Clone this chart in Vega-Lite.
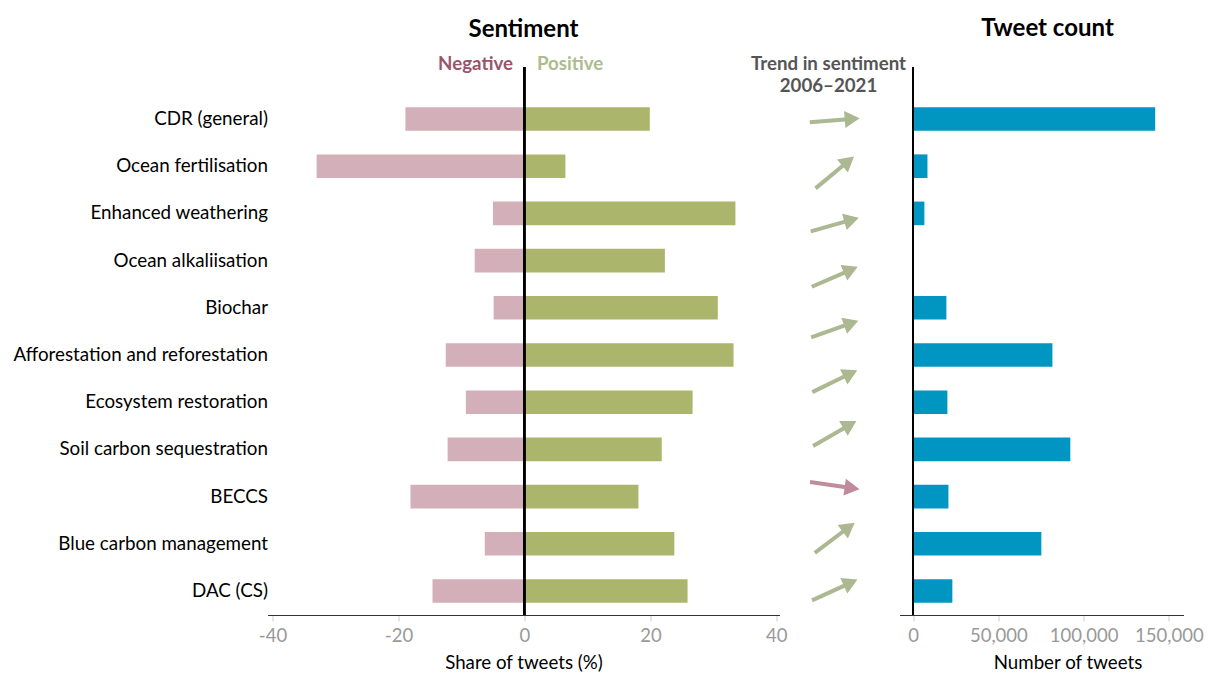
{
  "$schema": "https://vega.github.io/schema/vega-lite/v6.json",
  "padding": {"left": 12.5, "top": 17, "right": 0, "bottom": 0},
  "background": "white",
  "bounds": "flush",
  "spacing": 0,
  "config": {
    "font": "Lato",
    "view": {"stroke": null},
    "axis": {"labelFont": "Lato", "titleFont": "Lato", "grid": false},
    "title": {"font": "Lato"}
  },
  "datasets": {
    "methods": [
      {"method": "CDR (general)", "negative": -18.9, "positive": 19.9, "tweets": 142000},
      {"method": "Ocean fertilisation", "negative": -33.0, "positive": 6.5, "tweets": 8400},
      {"method": "Enhanced weathering", "negative": -5.0, "positive": 33.5, "tweets": 6600},
      {"method": "Ocean alkaliisation", "negative": -7.9, "positive": 22.3, "tweets": 0},
      {"method": "Biochar", "negative": -4.9, "positive": 30.7, "tweets": 19500},
      {"method": "Afforestation and reforestation", "negative": -12.5, "positive": 33.2, "tweets": 81700},
      {"method": "Ecosystem restoration", "negative": -9.3, "positive": 26.7, "tweets": 20100},
      {"method": "Soil carbon sequestration", "negative": -12.2, "positive": 21.8, "tweets": 92200},
      {"method": "BECCS", "negative": -18.1, "positive": 18.1, "tweets": 20700},
      {"method": "Blue carbon management", "negative": -6.3, "positive": 23.8, "tweets": 75200},
      {"method": "DAC (CS)", "negative": -14.6, "positive": 25.9, "tweets": 23000}
    ],
    "arrows": [
      {"method": "CDR (general)", "slot": 0, "angle": 355.5, "trend": "up"},
      {"method": "Ocean fertilisation", "slot": 1, "angle": 320.3, "trend": "up"},
      {"method": "Enhanced weathering", "slot": 2, "angle": 344.1, "trend": "up"},
      {"method": "Biochar", "slot": 3, "angle": 336.6, "trend": "up"},
      {"method": "Afforestation and reforestation", "slot": 4, "angle": 340.6, "trend": "up"},
      {"method": "Ecosystem restoration", "slot": 5, "angle": 334.0, "trend": "up"},
      {"method": "Soil carbon sequestration", "slot": 6, "angle": 330.0, "trend": "up"},
      {"method": "BECCS", "slot": 7, "angle": 8.4, "trend": "down"},
      {"method": "Blue carbon management", "slot": 8, "angle": 323.0, "trend": "up"},
      {"method": "DAC (CS)", "slot": 9, "angle": 335.4, "trend": "up"}
    ]
  },
  "hconcat": [
    {
      "width": 512,
      "height": 548,
      "data": {"name": "methods"},
      "title": {"text": "Sentiment", "fontSize": 24, "fontWeight": "bold", "color": "#000", "anchor": "middle", "frame": "group", "baseline": "alphabetic", "offset": -6},
      "layer": [
        {
          "mark": {"type": "bar", "color": "#d3afb9"},
          "encoding": {
            "y": {
              "field": "method", "type": "nominal", "sort": null,
              "scale": {"paddingInner": 0.5, "paddingOuter": 0.555, "align": 0.767, "round": false},
              "axis": {"title": null, "domain": false, "ticks": false, "labelPadding": 0, "labelFontSize": 18.8, "labelColor": "#000", "labelLimit": 400}
            },
            "x": {
              "field": "negative", "type": "quantitative",
              "scale": {"domain": [-40.8, 40.5], "nice": false, "zero": false},
              "axis": {"orient": "bottom", "values": [-40, -20, 0, 20, 40], "labelExpr": "'' + datum.value", "title": "Share of tweets (%)", "titleFontSize": 18.7, "titleFontWeight": "normal", "titleColor": "#000", "titlePadding": 9, "labelFontSize": 18.5, "labelColor": "#999", "domainColor": "#333", "domainWidth": 1, "tickColor": "#ccc", "tickSize": 6, "labelPadding": 5, "labelFlush": false}
            },
            "x2": {"datum": 0}
          }
        },
        {
          "mark": {"type": "bar", "color": "#abb56b"},
          "encoding": {
            "y": {"field": "method", "type": "nominal", "sort": null},
            "x": {"field": "positive", "type": "quantitative", "axis": null},
            "x2": {"datum": 0}
          }
        },
        {
          "mark": {"type": "rule", "color": "#000", "strokeWidth": 1.5},
          "encoding": {
            "x": {
              "datum": 0, "type": "quantitative",
              "axis": {
                "orient": "top", "values": [-1.9, 1.9], "domain": false, "ticks": false, "title": null,
                "labelExpr": "datum.value < 0 ? 'Negative' : 'Positive'",
                "labelAlign": {"condition": {"test": "datum.value < 0", "value": "right"}, "value": "left"},
                "labelColor": {"condition": {"test": "datum.value < 0", "value": "#9a546b"}, "value": "#adbb8f"},
                "labelFontSize": 18.7, "labelFontWeight": "bold", "labelBaseline": "alphabetic", "labelPadding": -2.5,
                "labelOverlap": false, "labelFlush": false
              }
            }
          }
        }
      ],
      "resolve": {"axis": {"x": "independent"}}
    },
    {
      "width": 120,
      "height": 548,
      "data": {"name": "arrows"},
      "title": {"text": ["Trend in sentiment", "2006–2021"], "fontSize": 18.7, "fontWeight": "bold", "color": "#555", "anchor": "middle", "frame": "group", "baseline": "alphabetic", "offset": -44, "lineHeight": 22.5, "dx": -11},
      "mark": {"type": "point", "filled": true, "shape": "M-1,-0.08L0.4,-0.08L0.4,-0.34L1,0L0.4,0.34L0.4,0.08L-1,0.08Z", "size": 2500, "opacity": 1, "strokeWidth": 0},
      "encoding": {
        "x": {"datum": 2013.5, "type": "quantitative", "scale": {"domain": [1996, 2034], "nice": false, "zero": false}, "axis": null},
        "y": {"field": "slot", "type": "quantitative", "scale": {"domain": [-1.019, 9.479], "reverse": true, "nice": false, "zero": false}, "axis": null},
        "angle": {"field": "angle", "type": "quantitative", "scale": null},
        "color": {"field": "trend", "type": "nominal", "scale": {"domain": ["up", "down"], "range": ["#abb891", "#c08b9b"]}, "legend": null}
      }
    },
    {
      "width": 284,
      "height": 548,
      "data": {"name": "methods"},
      "title": {"text": "Tweet count", "fontSize": 24, "fontWeight": "bold", "color": "#000", "anchor": "middle", "frame": "group", "baseline": "alphabetic", "offset": 6, "dx": 6},
      "layer": [
        {
          "mark": {"type": "bar", "color": "#0096c1"},
          "encoding": {
            "y": {
              "field": "method", "type": "nominal", "sort": null,
              "scale": {"paddingInner": 0.5, "paddingOuter": 0.555, "align": 0.767, "round": false},
              "axis": null
            },
            "x": {
              "field": "tweets", "type": "quantitative",
              "scale": {"domain": [-8000, 158600], "nice": false, "zero": false},
              "axis": {"values": [0, 50000, 100000, 150000], "labelExpr": "format(datum.value, ',')", "title": "Number of tweets", "titleX": 168, "titleFontSize": 18.7, "titleFontWeight": "normal", "titleColor": "#000", "titlePadding": 9, "labelFontSize": 18.5, "labelColor": "#999", "domainColor": "#333", "domainWidth": 1, "tickColor": "#ccc", "tickSize": 6, "labelPadding": 5, "labelFlush": false}
            },
            "x2": {"datum": 0}
          }
        },
        {
          "mark": {"type": "rule", "color": "#000", "strokeWidth": 1.5},
          "encoding": {"x": {"datum": 0, "type": "quantitative", "axis": null}}
        }
      ],
      "resolve": {"axis": {"x": "independent"}}
    }
  ]
}
